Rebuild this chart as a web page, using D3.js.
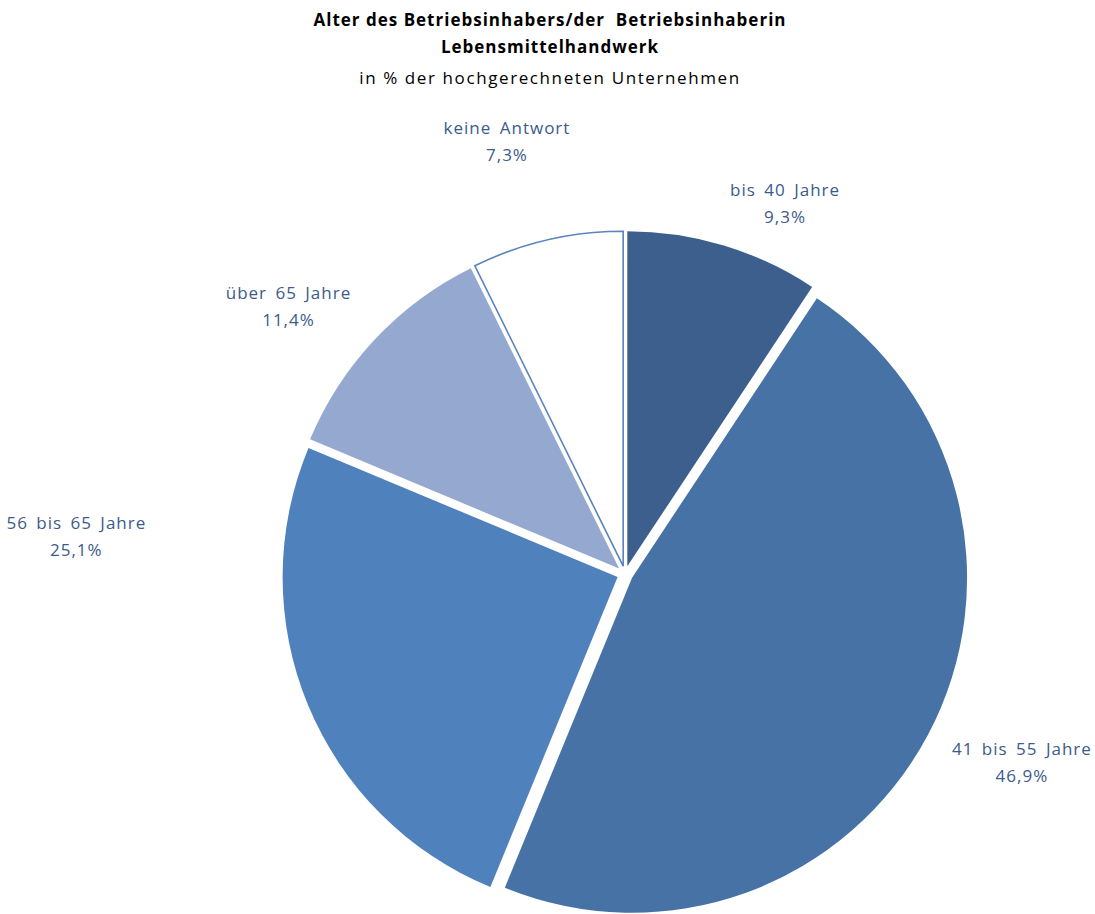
<!DOCTYPE html>
<html><head><meta charset="utf-8">
<script src="https://cdn.jsdelivr.net/npm/d3@7"></script>
<style>
body{margin:0;background:#fff;}
text{font-family:"Open Sans","Noto Sans",sans-serif;}
</style></head>
<body>
<svg id="chart" width="1095" height="914"></svg>
<script>
const categories = ["bis 40 Jahre","41 bis 55 Jahre","56 bis 65 Jahre","über 65 Jahre","keine Antwort"];
const values = [9.3, 46.9, 25.1, 11.4, 7.3];
const valueLabels = ["9,3%","46,9%","25,1%","11,4%","7,3%"];
const colors = ["#3C5F8E","#4672A6","#4F81BD","#95A9D0","#FFFFFF"];
const titleLines = ["Alter des Betriebsinhabers/der  Betriebsinhaberin","Lebensmittelhandwerk"];
const subtitle = "in % der hochgerechneten Unternehmen";

// layout (not data): label placement as angle nudge (deg) and distance from centre
const labelLayout = [
  {dAng: 6.6, dist: 404},
  {dAng: -2.6, dist: 439},
  {dAng: 26.5, dist: 550},
  {dAng: -4.7, dist: 430},
  {dAng: -2.1, dist: 449}
];

const svg = d3.select("#chart");
const cx = 625, cy = 574, R = 335, explode = 8;

const pie = d3.pie().sort(null).value(d => d)(values);
const arc = d3.arc().innerRadius(0).outerRadius(R);

const g = svg.append("g").attr("transform", `translate(${cx},${cy})`);
g.selectAll("path").data(pie).enter().append("path")
  .attr("d", arc)
  .attr("transform", d => {
    const m = (d.startAngle + d.endAngle) / 2;
    return `translate(${explode*Math.sin(m)},${-explode*Math.cos(m)})`;
  })
  .attr("fill", (d,i) => colors[i])
  .attr("stroke", (d,i) => i === 4 ? "#5A84BE" : "none")
  .attr("stroke-width", 1.6);

const lab = g.selectAll("text.lab").data(pie).enter().append("text")
  .attr("class","lab")
  .attr("text-anchor","middle")
  .attr("fill","#3B5B8C")
  .attr("font-size","17px")
  .attr("letter-spacing","1px")
  .attr("word-spacing","3px")
  .attr("transform", (d,i) => {
    const m = (d.startAngle + d.endAngle) / 2 + labelLayout[i].dAng*Math.PI/180;
    const r = labelLayout[i].dist;
    return `translate(${r*Math.sin(m)},${-r*Math.cos(m)})`;
  });
lab.append("tspan").attr("x",0).attr("y",-7).text((d,i)=>categories[i]);
lab.append("tspan").attr("x",0).attr("y",20).text((d,i)=>valueLabels[i]);

svg.append("text").attr("x",550).attr("y",26).attr("text-anchor","middle")
  .attr("font-weight","bold").attr("font-size","17px").attr("letter-spacing","1px")
  .style("white-space","pre")
  .text(titleLines[0]);
svg.append("text").attr("x",550).attr("y",53).attr("text-anchor","middle")
  .attr("font-weight","bold").attr("font-size","17px").attr("letter-spacing","1px")
  .text(titleLines[1]);
svg.append("text").attr("x",550).attr("y",84).attr("text-anchor","middle")
  .attr("font-size","17px").attr("letter-spacing","1.6px")
  .text(subtitle);
</script>
</body></html>
